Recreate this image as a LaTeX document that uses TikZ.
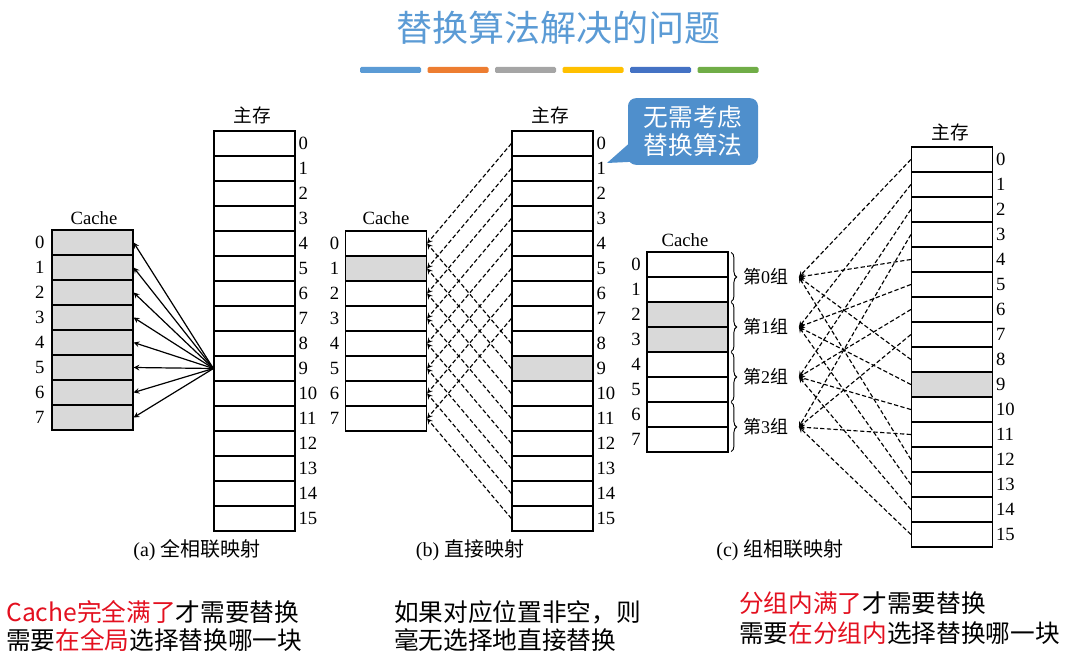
\documentclass[tikz,border=0pt]{standalone}
\usepackage{fontspec}
\setmainfont{Liberation Serif}
\newfontfamily\cjk{Noto Sans CJK SC}
\usetikzlibrary{decorations.pathreplacing}

\definecolor{cellgray}{HTML}{D9D9D9}
\definecolor{titleblue}{HTML}{5B9BD5}
\definecolor{callblue}{HTML}{4F8FCC}
\definecolor{notered}{HTML}{E3101F}
\newcommand{\redtxt}[1]{\textcolor{notered}{#1}}

\tikzset{
  cell/.style={draw, line width=0.9pt, minimum width=60.75pt, minimum height=18.75pt, inner sep=0pt},
  num/.style={font=\fontsize{14}{15}\selectfont, inner sep=0pt},
  memlabel/.style={font=\cjk\fontsize{14}{16}\selectfont},
  cachelabel/.style={font=\fontsize{14}{16}\selectfont},
  captext/.style={font=\fontsize{15}{17}\selectfont},
  grp/.style={font=\fontsize{13.5}{15}\selectfont, inner xsep=8pt, inner ysep=0pt},
  note/.style={font=\cjk\fontsize{18.5}{22}\selectfont, anchor=west, inner sep=0pt},
  map/.style={->, line width=0.9pt},
  dmap/.style={->, line width=0.85pt, dash pattern=on 3.2pt off 1.8pt},
}

\begin{document}
\begin{tikzpicture}[x=0.75pt, y=-0.75pt, >=stealth]
\useasboundingbox (0,0) rectangle (1065,656);

% Title
\node[font=\cjk\fontsize{27}{30}\selectfont, text=titleblue] (title) at (558,28) {替换算法解决的问题};
\foreach \c [count=\k from 0] in {5B9BD5,ED7D31,A5A5A5,FFC000,4472C4,70AD47}{
  \definecolor{barc}{HTML}{\c}
  \fill[barc, rounded corners=1pt] (360+67.5*\k,67) rectangle ++(61,6);
}

% (a) fully associative
\foreach \i in {0,...,15}
  \node[cell, label={[num,label distance=2pt]right:\i}] (ma\i) at (254.5,143.5+25*\i) {};
\foreach \i in {0,...,7}
  \node[cell, fill=cellgray, label={[num,label distance=5pt]left:\i}] (ca\i) at (92.5,242.5+25*\i) {};
\node[memlabel] (mema) at (252,115) {主存};
\node[cachelabel] (cachea) at (94,218) {Cache};
\node[captext] (capa) at (197,550) {(a) {\cjk 全相联映射}};
\foreach \i in {0,...,7}
  \draw[map] (ma9.west) -- (ca\i.east);

% (b) direct
\foreach \i in {0,...,15}{
  \ifnum\i=9 \def\cellfill{cellgray}\else\def\cellfill{white}\fi
  \node[cell, fill=\cellfill, label={[num,label distance=2pt]right:\i}] (mb\i) at (552.5,143.5+25*\i) {};
}
\foreach \i in {0,...,7}{
  \ifnum\i=1 \def\cellfill{cellgray}\else\def\cellfill{white}\fi
  \node[cell, fill=\cellfill, label={[num,label distance=4pt]left:\i}] (cb\i) at (386,243.5+25*\i) {};
}
\node[memlabel] (memb) at (550,115) {主存};
\node[cachelabel] (cacheb) at (386,218) {Cache};
\node[captext] (capb) at (470,550) {(b) {\cjk 直接映射}};
\foreach \i in {0,...,15}{
  \pgfmathtruncatemacro{\j}{mod(\i,8)}
  \draw[dmap] (mb\i.west) -- (cb\j.east);
}

% callout
\node[fill=callblue, rounded corners=6pt, minimum width=97.5pt, minimum height=50pt, text=white, align=center, font=\cjk\fontsize{18.5}{21}\selectfont] (tip) at (693,131.5) {无需考虑\\替换算法};
\coordinate (tipend) at (607,163);
\fill[callblue] (tipend) -- ([xshift=3pt,yshift=18pt]tip.south west) -- ([xshift=14pt,yshift=3pt]tip.south west) -- cycle;

% (c) set associative
\foreach \i in {0,...,15}{
  \ifnum\i=9 \def\cellfill{cellgray}\else\def\cellfill{white}\fi
  \node[cell, fill=\cellfill, label={[num,label distance=2pt]right:\i}] (mc\i) at (952,159.5+25*\i) {};
}
\foreach \i in {0,...,7}{
  \ifnum\i=2 \def\cellfill{cellgray}\else\ifnum\i=3 \def\cellfill{cellgray}\else\def\cellfill{white}\fi\fi
  \node[cell, fill=\cellfill, label={[num,label distance=4pt]left:\i}] (cc\i) at (687.5,264.5+25*\i) {};
}
\node[memlabel] (memc) at (950,132) {主存};
\node[cachelabel] (cachec) at (685,240) {Cache};
\node[captext] (capc) at (780,550) {(c) {\cjk 组相联映射}};
\foreach \k in {0,...,3}{
  \pgfmathtruncatemacro{\a}{2*\k}
  \pgfmathtruncatemacro{\b}{2*\k+1}
  \draw[decorate, decoration={brace, amplitude=4pt}, line width=0.7pt]
    ([xshift=2pt,yshift=-0.8pt]cc\a.north east) -- ([xshift=2pt,yshift=0.8pt]cc\b.south east);
  \node[grp] (g\k) at (765.5,277+50*\k) {{\cjk 第}\k{\cjk 组}};
}
\foreach \i in {0,...,15}{
  \pgfmathtruncatemacro{\j}{mod(\i,4)}
  \draw[dmap] (mc\i.west) -- (g\j.east);
}

% notes
\node[note] (n1) at (6,612) {\redtxt{Cache完全满了}才需要替换};
\node[note] (n2) at (6,640) {需要\redtxt{在全局}选择替换哪一块};
\node[note] (n3) at (394,612) {如果对应位置非空，则};
\node[note] (n4) at (394,640) {毫无选择地直接替换};
\node[note] (n5) at (739,603) {\redtxt{分组内满了}才需要替换};
\node[note] (n6) at (739,633) {需要\redtxt{在分组内}选择替换哪一块};
\end{tikzpicture}
\end{document}
